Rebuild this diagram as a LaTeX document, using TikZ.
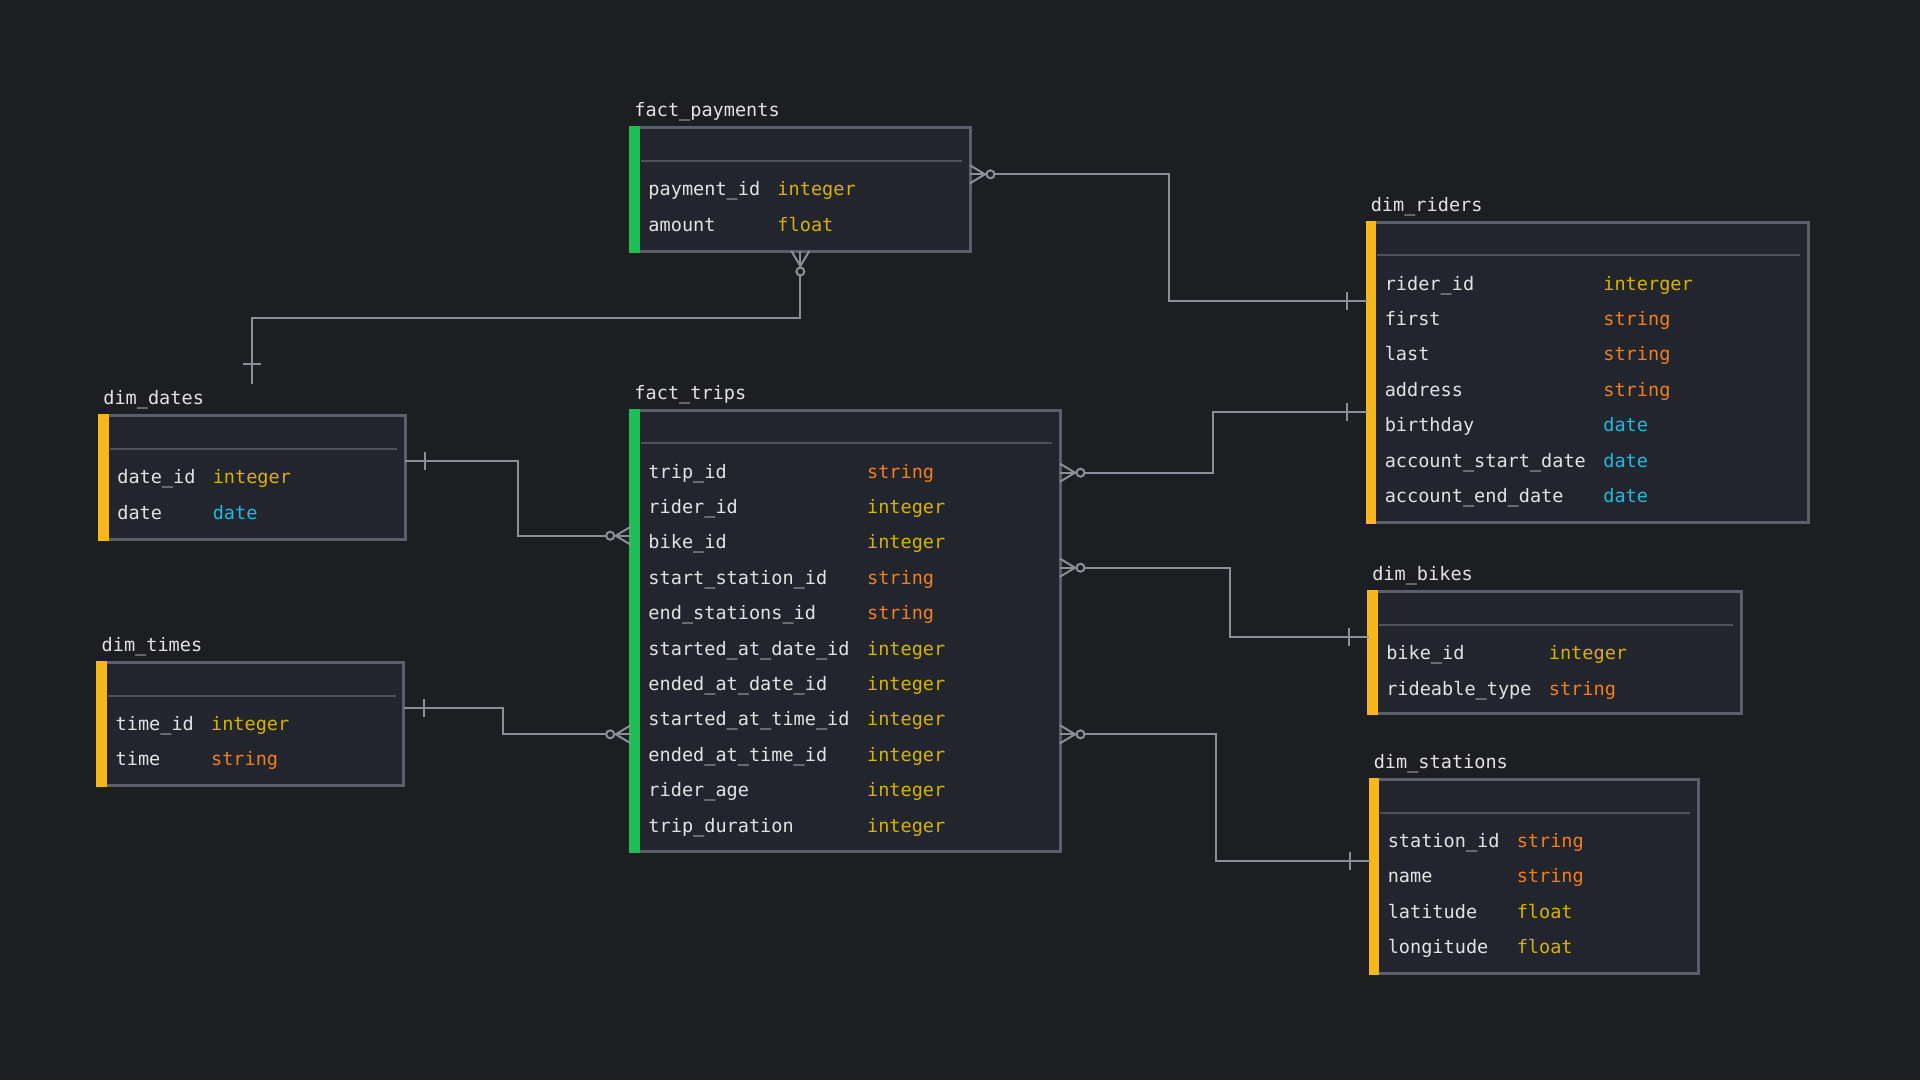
\documentclass[tikz,border=0pt]{standalone}
\usepackage{fontspec}
\setmonofont{DejaVu Sans Mono}
\usepackage{tikz}
\usetikzlibrary{calc}
\usetikzlibrary{fit}

\definecolor{bgc}{HTML}{1D1E22}
\definecolor{boxfill}{HTML}{22252D}
\definecolor{boxline}{HTML}{5C5F6A}
\definecolor{hdrline}{HTML}{4E515C}
\definecolor{connline}{HTML}{8C8F98}
\definecolor{namec}{HTML}{E2E2E2}
\definecolor{numc}{HTML}{D6B300}
\definecolor{strc}{HTML}{F07F1E}
\definecolor{datec}{HTML}{1FBADC}
\definecolor{factc}{HTML}{1FBD56}
\definecolor{dimc}{HTML}{F7B71B}

\tikzset{
  tbl/.style={draw=boxline, fill=boxfill, line width=0.75mm, inner sep=0pt, outer sep=0pt},
  hdr/.style={draw=hdrline, line width=0.5mm},
  conn/.style={draw=connline, line width=0.5mm},
  field/.style={anchor=west, inner sep=0pt, text=namec, text height=8pt, text depth=0pt,
    font=\ttfamily\fontsize{13.2pt}{16pt}\selectfont},
  title/.style={field}
}

\begin{document}
\begin{tikzpicture}[x=0.25mm, y=-0.25mm]

\fill [bgc] (0,0) rectangle (1920,1080);

% fact_payments
\node [tbl, fit={(630.7,127.7) (970,251)}] (pay) {};
\fill [factc] ($(pay.north west)+(-1.5,-1.5)$) rectangle ($(pay.south west)+(9,1.5)$);
\draw [hdr] ($(pay.north west)+(10,33.3)$) -- ($(pay.north east)+(-8,33.3)$);
\node [title] (pay-name) at ($(pay.north west)+(3.5,-16.5)$) {fact\_payments};
\foreach \f/\t/\c [count=\i from 0] in {payment\_id/integer/numc, amount/float/numc} {
  \node [field] (pay-f\i) at ($(pay.north west)+(17.5,62.5+35.4*\i)$) {\f};
  \node [field, text=\c] (pay-t\i) at ($(pay.north west)+(146.5,62.5+35.4*\i)$) {\t};
}

% fact_trips
\node [tbl, fit={(630.7,410) (1060,851)}] (trips) {};
\fill [factc] ($(trips.north west)+(-1.5,-1.5)$) rectangle ($(trips.south west)+(9,1.5)$);
\draw [hdr] ($(trips.north west)+(10,33.3)$) -- ($(trips.north east)+(-8,33.3)$);
\node [title] (trips-name) at ($(trips.north west)+(3.5,-16.5)$) {fact\_trips};
\foreach \f/\t/\c [count=\i from 0] in {trip\_id/string/strc, rider\_id/integer/numc,
    bike\_id/integer/numc, start\_station\_id/string/strc, end\_stations\_id/string/strc,
    started\_at\_date\_id/integer/numc, ended\_at\_date\_id/integer/numc,
    started\_at\_time\_id/integer/numc, ended\_at\_time\_id/integer/numc,
    rider\_age/integer/numc, trip\_duration/integer/numc} {
  \node [field] (trips-f\i) at ($(trips.north west)+(17.5,62.5+35.4*\i)$) {\f};
  \node [field, text=\c] (trips-t\i) at ($(trips.north west)+(236.1,62.5+35.4*\i)$) {\t};
}

% dim_riders
\node [tbl, fit={(1367,222) (1808,522)}] (riders) {};
\fill [dimc] ($(riders.north west)+(-1.5,-1.5)$) rectangle ($(riders.south west)+(9,1.5)$);
\draw [hdr] ($(riders.north west)+(10,33.3)$) -- ($(riders.north east)+(-8,33.3)$);
\node [title] (riders-name) at ($(riders.north west)+(3.5,-16.5)$) {dim\_riders};
\foreach \f/\t/\c [count=\i from 0] in {rider\_id/interger/numc, first/string/strc,
    last/string/strc, address/string/strc, birthday/date/datec,
    account\_start\_date/date/datec, account\_end\_date/date/datec} {
  \node [field] (riders-f\i) at ($(riders.north west)+(17.5,62.5+35.4*\i)$) {\f};
  \node [field, text=\c] (riders-t\i) at ($(riders.north west)+(236.1,62.5+35.4*\i)$) {\t};
}

% dim_dates
\node [tbl, fit={(99.6,415.7) (405,539.3)}] (dates) {};
\fill [dimc] ($(dates.north west)+(-1.5,-1.5)$) rectangle ($(dates.south west)+(9,1.5)$);
\draw [hdr] ($(dates.north west)+(10,33.3)$) -- ($(dates.north east)+(-8,33.3)$);
\node [title] (dates-name) at ($(dates.north west)+(3.5,-16.5)$) {dim\_dates};
\foreach \f/\t/\c [count=\i from 0] in {date\_id/integer/numc, date/date/datec} {
  \node [field] (dates-f\i) at ($(dates.north west)+(17.5,62.5+35.4*\i)$) {\f};
  \node [field, text=\c] (dates-t\i) at ($(dates.north west)+(112.9,62.5+35.4*\i)$) {\t};
}

% dim_times
\node [tbl, fit={(97.9,662.3) (403.6,785.7)}] (times) {};
\fill [dimc] ($(times.north west)+(-1.5,-1.5)$) rectangle ($(times.south west)+(9,1.5)$);
\draw [hdr] ($(times.north west)+(10,33.3)$) -- ($(times.north east)+(-8,33.3)$);
\node [title] (times-name) at ($(times.north west)+(3.5,-16.5)$) {dim\_times};
\foreach \f/\t/\c [count=\i from 0] in {time\_id/integer/numc, time/string/strc} {
  \node [field] (times-f\i) at ($(times.north west)+(17.5,62.5+35.4*\i)$) {\f};
  \node [field, text=\c] (times-t\i) at ($(times.north west)+(112.9,62.5+35.4*\i)$) {\t};
}

% dim_bikes
\node [tbl, fit={(1368.5,591.7) (1741,713)}] (bikes) {};
\fill [dimc] ($(bikes.north west)+(-1.5,-1.5)$) rectangle ($(bikes.south west)+(9,1.5)$);
\draw [hdr] ($(bikes.north west)+(10,33.3)$) -- ($(bikes.north east)+(-8,33.3)$);
\node [title] (bikes-name) at ($(bikes.north west)+(3.5,-16.5)$) {dim\_bikes};
\foreach \f/\t/\c [count=\i from 0] in {bike\_id/integer/numc, rideable\_type/string/strc} {
  \node [field] (bikes-f\i) at ($(bikes.north west)+(17.5,62.5+35.4*\i)$) {\f};
  \node [field, text=\c] (bikes-t\i) at ($(bikes.north west)+(180.1,62.5+35.4*\i)$) {\t};
}

% dim_stations
\node [tbl, fit={(1370,779.3) (1698,973)}] (stations) {};
\fill [dimc] ($(stations.north west)+(-1.5,-1.5)$) rectangle ($(stations.south west)+(9,1.5)$);
\draw [hdr] ($(stations.north west)+(10,33.3)$) -- ($(stations.north east)+(-8,33.3)$);
\node [title] (stations-name) at ($(stations.north west)+(3.5,-16.5)$) {dim\_stations};
\foreach \f/\t/\c [count=\i from 0] in {station\_id/string/strc, name/string/strc,
    latitude/float/numc, longitude/float/numc} {
  \node [field] (stations-f\i) at ($(stations.north west)+(17.5,62.5+35.4*\i)$) {\f};
  \node [field, text=\c] (stations-t\i) at ($(stations.north west)+(146.5,62.5+35.4*\i)$) {\t};
}

% connector ends
\coordinate (p1) at (pay.east |- 0,174.3);
\coordinate (p2) at (pay.south);
\coordinate (dd) at ($(dates.north)+(0,-31.4)$);
\coordinate (d1) at (dates.east |- 0,461);
\coordinate (e1) at (times.east |- 0,708.3);
\coordinate (t1) at (trips.west |- 0,535.7);
\coordinate (t2) at (trips.west |- 0,734.3);
\coordinate (r1) at (trips.east |- 0,472.7);
\coordinate (r2) at (trips.east |- 0,567.7);
\coordinate (r3) at (trips.east |- 0,734.3);
\coordinate (q1) at (riders.west |- 0,300.5);
\coordinate (q2) at (riders.west |- 0,412);
\coordinate (q3) at (bikes.west |- 0,636.7);
\coordinate (q4) at (stations.west |- 0,860.7);

% connectors
\draw [conn] ($(p1)+(24.5,0)$) -| (1168.5,300.5) -- (q1);
\draw [conn] ($(p2)+(0,24.5)$) |- (dd |- 0,317.7) -- (dd);
\draw [conn] (d1) -| (518,535.7) -- ($(t1)+(-24.5,0)$);
\draw [conn] (e1) -| (502.5,734.3) -- ($(t2)+(-24.5,0)$);
\draw [conn] ($(r1)+(24.5,0)$) -| (1213.3,412) -- (q2);
\draw [conn] ($(r2)+(24.5,0)$) -| (1230,636.7) -- (q3);
\draw [conn] ($(r3)+(24.5,0)$) -| (1216,860.7) -- (q4);

% zero or many
\foreach \p/\a in {p1/0, p2/90, t1/180, t2/180, r1/0, r2/0, r3/0} {
  \draw [conn] ($(\p)+(\a+90:9)$) -- ($(\p)+(\a:15)$) -- ($(\p)+(\a-90:9)$);
  \draw [conn] (\p) -- ($(\p)+(\a:16.5)$);
  \draw [conn] ($(\p)+(\a:20.5)$) circle [radius=4];
}

% exactly one
\foreach \p/\a in {q1/180, q2/180, q3/180, q4/180, d1/0, e1/0, dd/-90} {
  \draw [conn] ($(\p)+(\a:20)+(\a+90:9)$) -- ($(\p)+(\a:20)+(\a-90:9)$);
}

\end{tikzpicture}
\end{document}
